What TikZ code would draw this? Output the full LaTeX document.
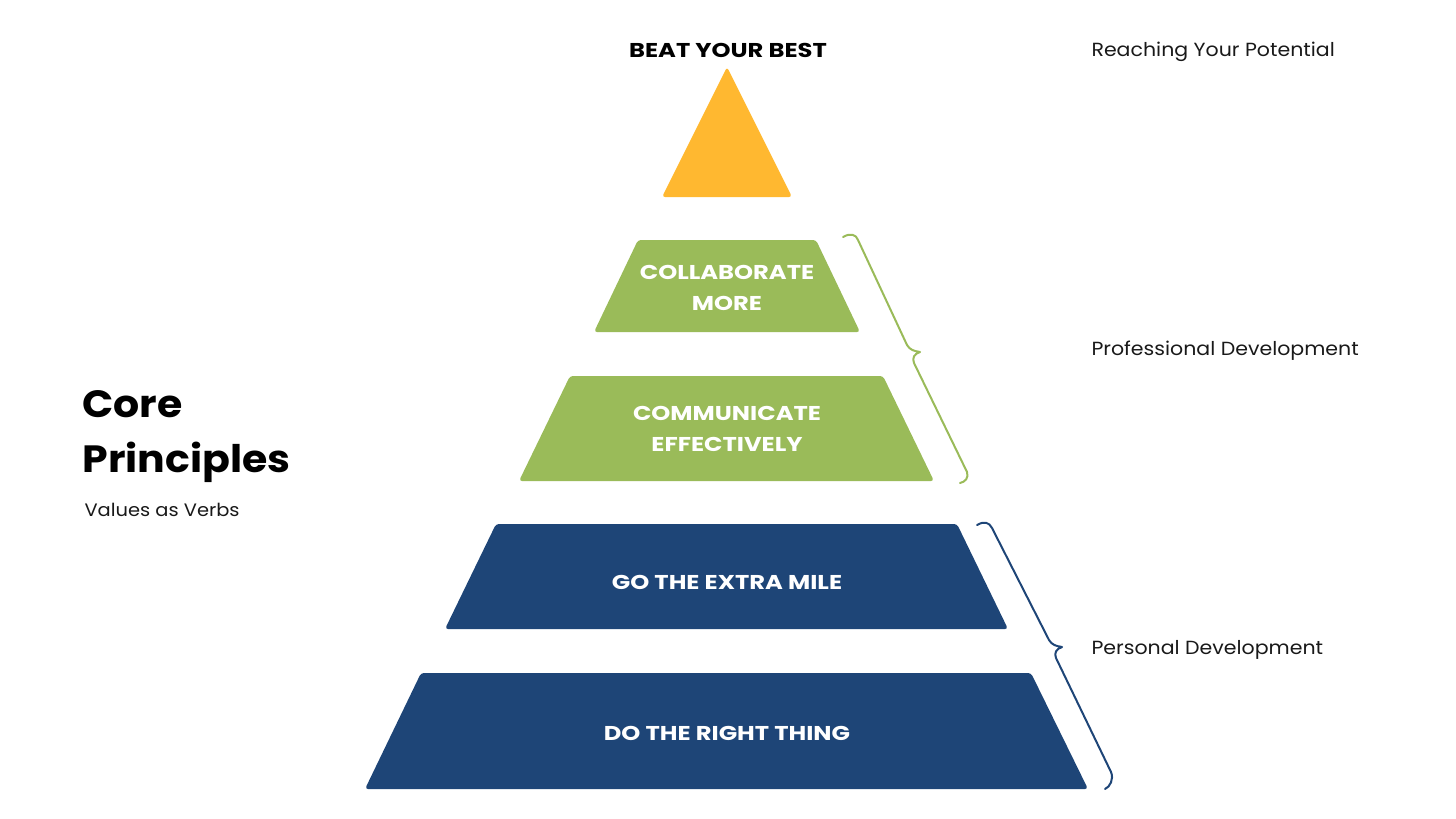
\documentclass[tikz,border=0pt]{standalone}
\usepackage{fontspec}
\setmainfont[FakeStretch=1.08]{Poppins}
\newfontfamily\tierfont[FakeStretch=1.21]{Poppins}
\definecolor{gold}{HTML}{FFB830}
\definecolor{leaf}{HTML}{9ABB59}
\definecolor{navy}{HTML}{1E4577}
\begin{document}
\begin{tikzpicture}[x=1pt,y=-1pt,
  tier/.style={text=white,font=\tierfont\fontsize{20}{31}\selectfont\bfseries,align=center},
  side/.style={anchor=base west,text=black!90,font=\fontsize{19}{23}\selectfont},
  brace/.style={line width=2pt,line cap=round,line join=round}]
\useasboundingbox (0,0) rectangle (1456,819);
% pyramid
\fill[gold,rounded corners=3pt] (727,67) -- (792,197) -- (662,197) -- cycle;
\fill[leaf,rounded corners=3pt] (638,240) -- (816,240) -- (860,332) -- (594,332) -- cycle;
\fill[leaf,rounded corners=3pt] (570,376) -- (883,376) -- (934,481) -- (519,481) -- cycle;
\fill[navy,rounded corners=3pt] (496,524) -- (957,524) -- (1008,629) -- (445,629) -- cycle;
\fill[navy,rounded corners=3pt] (421,673) -- (1031,673) -- (1088,789) -- (365,789) -- cycle;
\node[anchor=base,font=\tierfont\fontsize{20}{24}\selectfont\bfseries] (top) at (728,57) {BEAT YOUR BEST};
\node[tier] (collab) at (727,288) {COLLABORATE\\MORE};
\node[tier] (comm) at (727,429) {COMMUNICATE\\EFFECTIVELY};
\node[tier,anchor=base] (mile) at (727,589) {GO THE EXTRA MILE};
\node[tier,anchor=base] (right) at (727,740) {DO THE RIGHT THING};
% braces
\draw[brace,leaf] (843,237) .. controls (850,233) and (856,234) .. (858,240) -- (907,345)
  .. controls (910,350) and (914,351) .. (920,352) .. controls (914,354) and (912,358) .. (914,363)
  -- (967,472) .. controls (969,478) and (965,482) .. (960,483);
\draw[brace,navy] (977,525) .. controls (984,521) and (989,522) .. (992,528) -- (1049,640)
  .. controls (1052,645) and (1056,646) .. (1062,647) .. controls (1056,649) and (1054,653) .. (1056,658)
  -- (1111,772) .. controls (1114,779) and (1110,787) .. (1105,789);
% left title
\node[anchor=base west,font=\fontsize{38}{46}\selectfont\bfseries] (core) at (79,417) {Core};
\node[anchor=base west,font=\fontsize{38}{46}\selectfont\bfseries] (princ) at (79,472) {Principles};
\node[side,font=\fontsize{18}{22}\selectfont] (verbs) at (81,516) {Values as Verbs};
% right labels
\node[side] (potential) at (1088,56) {Reaching Your Potential};
\node[side] (prof) at (1088,355) {Professional Development};
\node[side] (pers) at (1088,654) {Personal Development};
\end{tikzpicture}
\end{document}
